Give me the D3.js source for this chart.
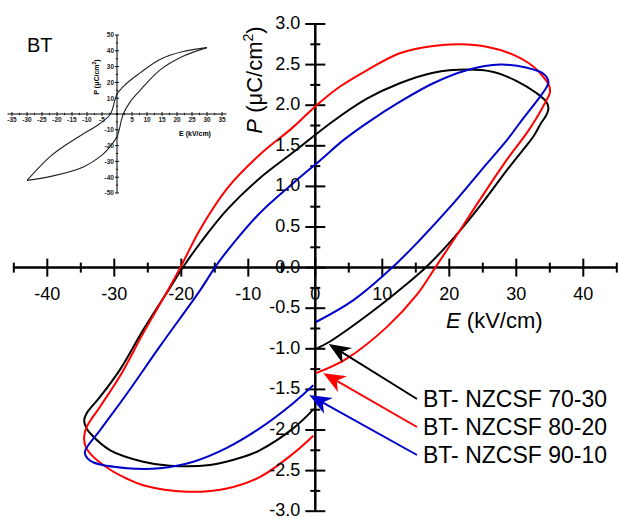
<!DOCTYPE html>
<html><head><meta charset="utf-8">
<script src="https://cdn.jsdelivr.net/npm/d3@7"></script>
<style>body{margin:0;background:#fff}svg{display:block}text{font-family:"Liberation Sans",Arial,sans-serif}</style>
</head><body><svg id="c" width="618" height="517"></svg>
<script>
// ---------- data ----------
const seriesNames = ["BT- NZCSF 70-30", "BT- NZCSF 80-20", "BT- NZCSF 90-10"];
const seriesColors = ["#000000", "#ff0000", "#0000cc"];

const blackE = [0.1, 2.2, 8.2, 13.1, 16.6, 20.6, 24.6, 28.6, 31.0, 32.6, 33.7, 34.5, 34.8, 34.5, 33.0, 30.0, 26.6, 22.6, 17.6, 12.6, 7.7, 2.6, -3.3, -8.3, -13.2, -17.2, -19.7, -21.7, -25.7, -29.1, -32.1, -34.1, -34.5, -34.2, -33.6, -30.6, -25.7, -21.7, -15.7, -10.7, -8.3, -3.3, -0.2];
const blackP = [-1.00, -0.91, -0.56, -0.24, 0.01, 0.36, 0.76, 1.20, 1.45, 1.62, 1.78, 1.88, 1.96, 2.04, 2.15, 2.30, 2.41, 2.44, 2.40, 2.27, 2.08, 1.80, 1.42, 1.10, 0.71, 0.30, 0.01, -0.25, -0.77, -1.25, -1.59, -1.79, -1.88, -1.97, -2.04, -2.25, -2.39, -2.44, -2.43, -2.33, -2.25, -1.98, -1.74];

const redE = [0.1, 4.7, 10.7, 15.1, 17.9, 21.6, 24.6, 28.6, 31.5, 33.0, 34.3, 35.0, 34.9, 33.5, 32.0, 29.6, 25.6, 21.6, 17.6, 12.6, 7.7, 3.7, 0.2, -3.3, -8.3, -13.2, -17.2, -19.9, -22.0, -25.7, -29.1, -32.1, -34.1, -34.5, -34.3, -33.6, -30.6, -28.1, -25.7, -19.2, -13.2, -8.3, -3.3, -0.3];
const redP = [-1.30, -1.12, -0.73, -0.34, 0.00, 0.46, 0.84, 1.33, 1.65, 1.84, 2.03, 2.15, 2.24, 2.40, 2.51, 2.62, 2.72, 2.75, 2.73, 2.64, 2.43, 2.23, 2.00, 1.73, 1.39, 0.97, 0.47, 0.04, -0.28, -0.81, -1.33, -1.71, -1.96, -2.08, -2.20, -2.29, -2.49, -2.60, -2.68, -2.76, -2.72, -2.58, -2.29, -2.07];

const blueE = [0.1, 5.7, 11.6, 15.6, 20.6, 25.6, 28.6, 30.6, 33.5, 34.5, 34.8, 34.0, 31.6, 27.6, 22.6, 17.6, 12.6, 7.7, 4.2, 0.7, -3.3, -8.3, -13.2, -15.0, -17.2, -23.2, -28.1, -32.1, -34.4, -34.0, -33.1, -28.1, -23.2, -18.2, -13.2, -8.3, -3.3, -0.3];
const blueP = [-0.67, -0.40, 0.01, 0.34, 0.79, 1.28, 1.57, 1.79, 2.10, 2.22, 2.29, 2.39, 2.46, 2.50, 2.43, 2.27, 2.04, 1.78, 1.57, 1.32, 1.04, 0.67, 0.20, 0.00, -0.28, -0.97, -1.55, -2.00, -2.27, -2.35, -2.40, -2.47, -2.47, -2.39, -2.22, -1.98, -1.67, -1.45];

// arrow tips (data coords) pointing at each curve
const arrowTipE = [2.0, 1.2, -0.9];
const arrowTipP = [-0.94, -1.30, -1.57];

// inset (pure BT)
const btUpE = [30, 22, 14.3, 7.7, 3, 0, -2.2, -6, -11.2, -17, -22.3, -30];
const btUpP = [42, 39.5, 34.5, 26, 19, 12.5, 0, -6.5, -12.5, -19.5, -27, -42];
const btLowE = [-30, -22, -11.2, -5, -2.3, 0, 2.1, 4.5, 7.7, 14.3, 22, 30];
const btLowP = [-42, -39.5, -33.5, -26, -20.7, -14.3, 0, 8, 15, 27.8, 36.5, 42];

// ticks
const xMajor = [-40, -30, -20, -10, 0, 10, 20, 30, 40];
const xMinor = [-45, -35, -25, -15, -5, 5, 15, 25, 35, 45];
const yMajor = [-3.0, -2.5, -2.0, -1.5, -1.0, -0.5, 0.0, 0.5, 1.0, 1.5, 2.0, 2.5, 3.0];
const yMinor = [-2.75, -2.25, -1.75, -1.25, -0.75, -0.25, 0.25, 0.75, 1.25, 1.75, 2.25, 2.75];
const insetXLabels = [-35, -30, -25, -20, -15, -10, -5, 5, 10, 15, 20, 25, 30, 35];
const insetXMinor = [-32.5, -27.5, -22.5, -17.5, -12.5, -7.5, -2.5, 0, 2.5, 7.5, 12.5, 17.5, 22.5, 27.5, 32.5];
const insetYLabels = [-50, -40, -30, -20, -10, 10, 20, 30, 40, 50];
const insetYMinor = [-45, -35, -25, -15, -5, 0, 5, 15, 25, 35, 45];

// ---------- drawing ----------
const svg = d3.select("#c");
svg.append("rect").attr("width", 618).attr("height", 517).attr("fill", "#fff");

const x = d3.scaleLinear().domain([-45, 45]).range([13.8, 616.8]);
const y = d3.scaleLinear().domain([-3, 3]).range([511.2, 24]);
const x0 = x(0), y0 = y(0);

const axes = svg.append("g").attr("stroke", "#000");
axes.append("line").attr("x1", x(-45)).attr("x2", x(45)).attr("y1", y0).attr("y2", y0).attr("stroke-width", 2.5);
axes.append("line").attr("x1", x0).attr("x2", x0).attr("y1", y(-3)).attr("y2", y(3)).attr("stroke-width", 2.5);
xMajor.forEach(v => axes.append("line").attr("x1", x(v)).attr("x2", x(v)).attr("y1", y0 - 9).attr("y2", y0 + 9).attr("stroke-width", 2));
xMinor.forEach(v => axes.append("line").attr("x1", x(v)).attr("x2", x(v)).attr("y1", y0 - 5).attr("y2", y0 + 5).attr("stroke-width", 2));
yMajor.forEach(v => axes.append("line").attr("y1", y(v)).attr("y2", y(v)).attr("x1", x0 - 10).attr("x2", x0 + 10).attr("stroke-width", 2));
yMinor.forEach(v => axes.append("line").attr("y1", y(v)).attr("y2", y(v)).attr("x1", x0 - 5).attr("x2", x0 + 5).attr("stroke-width", 2));

// curves
const line = d3.line().x(d => x(d[0])).y(d => y(d[1])).curve(d3.curveCatmullRom.alpha(0.5));
const series = [[blackE, blackP], [redE, redP], [blueE, blueP]];
series.forEach((s, i) => {
  const pts = s[0].map((e, k) => [e, s[1][k]]);
  svg.append("path").attr("d", line(pts)).attr("fill", "none")
    .attr("stroke", seriesColors[i]).attr("stroke-width", 2).attr("stroke-linejoin", "round");
});

// tick labels
const tl = svg.append("g").attr("font-size", 18).attr("fill", "#000");
xMajor.forEach(v => tl.append("text").attr("x", x(v)).attr("y", y0 + 32.5).attr("text-anchor", "middle").text(String(v)));
yMajor.forEach(v => tl.append("text").attr("x", x0 - 15).attr("y", y(v) + 5).attr("text-anchor", "end").text(v.toFixed(1)));

// axis titles
const yt = svg.append("text").attr("transform", "translate(262,80) rotate(-90)").attr("text-anchor", "middle").attr("font-size", 22);
yt.append("tspan").attr("font-style", "italic").text("P");
yt.append("tspan").text(" (μC/cm");
yt.append("tspan").attr("font-size", 14).attr("dy", -9).text("2");
yt.append("tspan").attr("dy", 9).text(")");
const xt = svg.append("text").attr("x", 446).attr("y", 328).attr("font-size", 22);
xt.append("tspan").attr("font-style", "italic").text("E");
xt.append("tspan").text(" (kV/cm)");

// legend + arrows
const legX = 423, legY = [407, 435, 463];
function arrow(x1, y1, x2, y2, color) {
  const dx = x2 - x1, dy = y2 - y1, L = Math.hypot(dx, dy);
  const ux = dx / L, uy = dy / L, px = -uy, py = ux;
  const AL = 22, AW = 9;
  svg.append("line").attr("x1", x1).attr("y1", y1).attr("x2", x2 - ux * 12).attr("y2", y2 - uy * 12)
    .attr("stroke", color).attr("stroke-width", 2);
  const pts = [[x2, y2], [x2 - ux * AL + px * AW, y2 - uy * AL + py * AW],
    [x2 - ux * AL * 0.7, y2 - uy * AL * 0.7], [x2 - ux * AL - px * AW, y2 - uy * AL - py * AW]];
  svg.append("polygon").attr("points", pts.map(p => p.join(",")).join(" ")).attr("fill", color);
}
seriesNames.forEach((n, i) => {
  arrow(legX - 6, legY[i] - 8, x(arrowTipE[i]), y(arrowTipP[i]), seriesColors[i]);
  svg.append("text").attr("x", legX).attr("y", legY[i]).attr("font-size", 23).text(n);
});

// ---------- inset ----------
const xi = d3.scaleLinear().domain([-35, 35]).range([12, 222]);
const yi = d3.scaleLinear().domain([-50, 50]).range([193, 35]);
const ins = svg.append("g");
ins.append("line").attr("x1", xi(-36.5)).attr("x2", xi(36.5)).attr("y1", yi(0)).attr("y2", yi(0)).attr("stroke", "#000").attr("stroke-width", 1);
ins.append("line").attr("x1", xi(0)).attr("x2", xi(0)).attr("y1", yi(-50)).attr("y2", yi(50)).attr("stroke", "#000").attr("stroke-width", 1);
insetXLabels.forEach(v => ins.append("line").attr("x1", xi(v)).attr("x2", xi(v)).attr("y1", yi(0) - 2).attr("y2", yi(0) + 2).attr("stroke", "#000").attr("stroke-width", 0.9));
insetXMinor.forEach(v => ins.append("line").attr("x1", xi(v)).attr("x2", xi(v)).attr("y1", yi(0) - 1.2).attr("y2", yi(0) + 1.2).attr("stroke", "#000").attr("stroke-width", 0.8));
insetYLabels.forEach(v => ins.append("line").attr("y1", yi(v)).attr("y2", yi(v)).attr("x1", xi(0) - 2).attr("x2", xi(0) + 2).attr("stroke", "#000").attr("stroke-width", 0.9));
insetYMinor.forEach(v => ins.append("line").attr("y1", yi(v)).attr("y2", yi(v)).attr("x1", xi(0) - 1.2).attr("x2", xi(0) + 1.2).attr("stroke", "#000").attr("stroke-width", 0.8));
const il = ins.append("g").attr("font-size", 6.5).attr("font-weight", "bold").attr("fill", "#222");
insetXLabels.forEach(v => il.append("text").attr("x", xi(v)).attr("y", yi(0) + 8).attr("text-anchor", "middle").text(String(v)));
insetYLabels.forEach(v => il.append("text").attr("x", xi(0) - 3).attr("y", yi(v) + 2.3).attr("text-anchor", "end").text(String(v)));
const ilineGen = d3.line().x(d => xi(d[0])).y(d => yi(d[1])).curve(d3.curveCatmullRom.alpha(0.5));
[[btUpE, btUpP], [btLowE, btLowP]].forEach(s => {
  ins.append("path").attr("d", ilineGen(s[0].map((e, k) => [e, s[1][k]]))).attr("fill", "none").attr("stroke", "#222").attr("stroke-width", 1.1);
});
const ipl = ins.append("text").attr("transform", "translate(99,77) rotate(-90)").attr("text-anchor", "middle").attr("font-size", 7).attr("font-weight", "bold");
ipl.append("tspan").text("P (μC/cm");
ipl.append("tspan").attr("font-size", 5).attr("dy", -3).text("2");
ipl.append("tspan").attr("dy", 3).text(")");
ins.append("text").attr("x", 195).attr("y", 135.5).attr("text-anchor", "middle").attr("font-size", 7).attr("font-weight", "bold").text("E (kV/cm)");
ins.append("text").attr("x", 27).attr("y", 52).attr("font-size", 20).text("BT");
</script></body></html>
